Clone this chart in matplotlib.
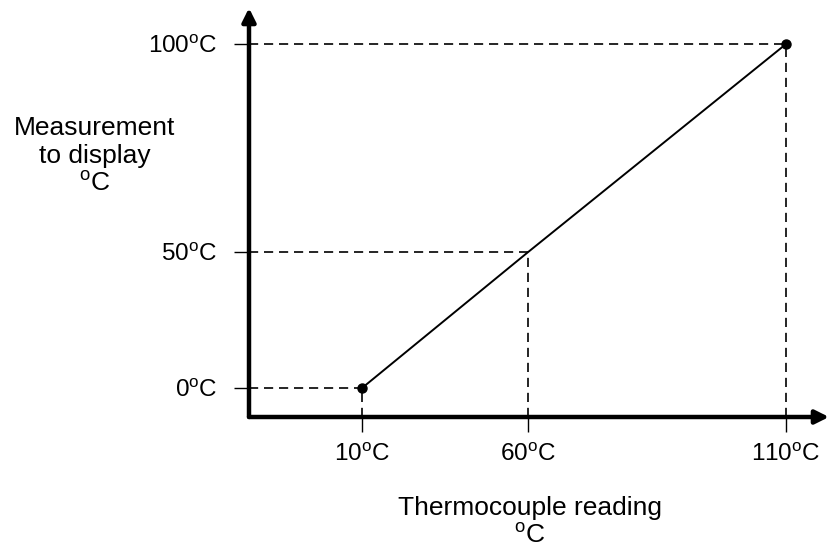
import numpy as np
import matplotlib
matplotlib.use("Agg")
import matplotlib.pyplot as plt

# thermocouple reading vs. displayed value (schematic, not to scale)
reading = [10, 60, 110]
display = [0, 50, 100]
x_ticks = [10, 60, 110]
y_ticks = [0, 50, 100]
x_ticklabels = ["10$^{\\mathrm{o}}$C", "60$^{\\mathrm{o}}$C", "110$^{\\mathrm{o}}$C"]
y_ticklabels = ["0$^{\\mathrm{o}}$C", "50$^{\\mathrm{o}}$C", "100$^{\\mathrm{o}}$C"]

plt.rcParams["font.family"] = ["Liberation Sans", "DejaVu Sans"]
plt.rcParams["mathtext.fontset"] = "custom"
plt.rcParams["mathtext.rm"] = "Liberation Sans"
plt.rcParams["mathtext.it"] = "Liberation Sans"

# the drawing is a sketch: tick spacing is not proportional to the values
xlim = (-30, 120)
ylim = (-10, 110)
x_anchor = [xlim[0], 10, 60, 110, xlim[1]]
x_frac = [0.0, 0.195, 0.481, 0.926, 1.0]
y_anchor = [ylim[0], 0, 50, 100, ylim[1]]
y_frac = [0.0, 0.071, 0.403, 0.912, 1.0]

def fx(v):
    return np.interp(v, x_anchor, x_frac)

def fx_inv(v):
    return np.interp(v, x_frac, x_anchor)

def fy(v):
    return np.interp(v, y_anchor, y_frac)

def fy_inv(v):
    return np.interp(v, y_frac, y_anchor)

fig = plt.figure(figsize=(8.29, 5.5), dpi=100)
ax = fig.add_axes([249 / 829, (550 - 417) / 550, 580 / 829, 409 / 550])
ax.set_xscale("function", functions=(fx, fx_inv))
ax.set_yscale("function", functions=(fy, fy_inv))
ax.set_xlim(*xlim)
ax.set_ylim(*ylim)

for s in ax.spines.values():
    s.set_visible(False)

# axes with arrow heads
arrow = dict(arrowstyle="-|>,head_length=0.8,head_width=0.4", lw=3.2, color="black",
             shrinkA=0, shrinkB=0)
ax.annotate("", xy=(1, 0), xytext=(0, 0), xycoords="axes fraction", arrowprops=arrow)
ax.annotate("", xy=(0, 1), xytext=(0, 0), xycoords="axes fraction", arrowprops=arrow)

# dashed guides
dash = (0, (5.5, 3.5))
for xv, yv in zip(reading, display):
    ax.hlines(yv, xlim[0], xv, colors="black", lw=1.2, linestyles=[dash])
    ax.vlines(xv, ylim[0], yv, colors="black", lw=1.2, linestyles=[dash])

ax.plot(reading, display, color="black", lw=1.4)
ax.plot([reading[0], reading[-1]], [display[0], display[-1]], "o", color="black", ms=6.5)

ax.set_xticks(x_ticks)
ax.set_xticklabels(x_ticklabels)
ax.set_yticks(y_ticks)
ax.set_yticklabels(y_ticklabels)
ax.minorticks_off()
ax.tick_params(axis="x", direction="out", length=11, width=1.0, pad=8.5, labelsize=17.5)
ax.tick_params(axis="y", direction="out", length=11, width=1.0, pad=12, labelsize=17.5)

fig.text(95 / 829, 1 - 156 / 550, "Measurement\nto display\n$^{\\mathrm{o}}$C",
         ha="center", va="center", fontsize=19, linespacing=1.2)
fig.text(530 / 829, 1 - 522 / 550, "Thermocouple reading\n$^{\\mathrm{o}}$C",
         ha="center", va="center", fontsize=19, linespacing=1.2)

fig.savefig("out.png", dpi=100)
